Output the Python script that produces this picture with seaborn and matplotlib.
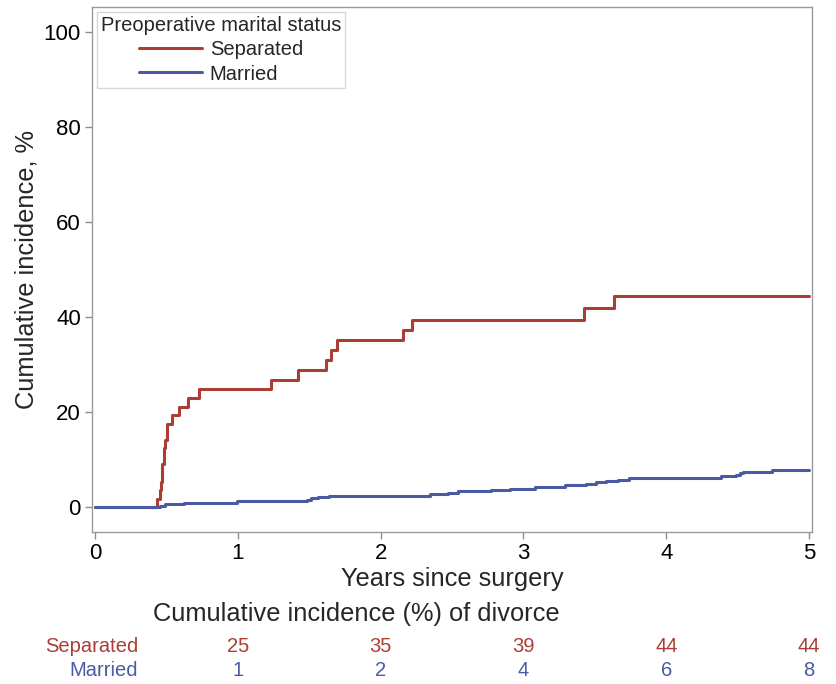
import numpy as np
import pandas as pd
import matplotlib
matplotlib.use("Agg")
import matplotlib.pyplot as plt
import matplotlib.transforms as mtransforms
import seaborn as sns

# ---- data ----
sep_years = [0, 0.436, 0.453, 0.461, 0.473, 0.486, 0.493, 0.506, 0.543, 0.586,
             0.654, 0.732, 1.234, 1.422, 1.616, 1.653, 1.698, 2.155, 2.218,
             3.423, 3.636, 5.0]
sep_pct = [0, 1.75, 3.65, 5.26, 9.12, 12.3, 14.0, 17.5, 19.4, 21.1,
           23.0, 24.8, 26.7, 28.8, 30.9, 33.1, 35.2, 37.3, 39.4,
           41.9, 44.4, 44.4]

mar_years = [0, 0.453, 0.491, 0.624, 0.995, 1.485, 1.515, 1.560, 1.640, 2.343,
             2.469, 2.545, 2.770, 2.908, 3.084, 3.294, 3.437, 3.509, 3.581,
             3.664, 3.736, 4.381, 4.489, 4.513, 4.537, 4.740, 5.0]
mar_pct = [0, 0.28, 0.56, 0.84, 1.19, 1.54, 1.82, 2.1, 2.3, 2.67,
           3.0, 3.3, 3.58, 3.86, 4.14, 4.53, 4.88, 5.2, 5.4,
           5.7, 6.1, 6.4, 6.8, 7.1, 7.3, 7.7, 7.7]

groups = ["Separated", "Married"]
table_years = [1, 2, 3, 4, 5]
sep_table = [25, 35, 39, 44, 44]
mar_table = [1, 2, 4, 6, 8]
x_ticks = [0, 1, 2, 3, 4, 5]
y_ticks = [0, 20, 40, 60, 80, 100]

RED = "#AC3D35"
BLUE = "#4A5BA3"

df = pd.concat([
    pd.DataFrame({"year": sep_years, "pct": sep_pct, "status": groups[0]}),
    pd.DataFrame({"year": mar_years, "pct": mar_pct, "status": groups[1]}),
], ignore_index=True)

sns.set_style("white")
plt.rcParams["font.family"] = ["Liberation Sans", "DejaVu Sans"]

fig = plt.figure(figsize=(8.37, 6.84), dpi=100)
ax = fig.add_axes([92 / 837, 1 - 532 / 684, (812 - 92) / 837, (532 - 7) / 684])

sns.lineplot(data=df, x="year", y="pct", hue="status", hue_order=groups,
             palette=[RED, BLUE], estimator=None, sort=False,
             drawstyle="steps-post", linewidth=2.2, ax=ax)

ax.set_xlim(-0.02, 5.02)
ax.set_ylim(-5.3, 105.3)
ax.set_xticks(x_ticks)
ax.set_yticks(y_ticks)
ax.tick_params(axis="both", which="major", direction="out", length=5,
               width=1, color="#8C8C8C", labelsize=16, labelcolor="black",
               bottom=True, left=True, pad=3)
for s in ax.spines.values():
    s.set_visible(True)
    s.set_color("#9A9A9A")
    s.set_linewidth(1.0)

ax.set_xlabel("Years since surgery", fontsize=18.3, labelpad=2)
ax.set_ylabel("Cumulative incidence, %", fontsize=18.3, labelpad=4)

leg = ax.legend(title="Preoperative marital status", loc="upper left",
                fontsize=14.5, title_fontsize=14.5, frameon=True, fancybox=False,
                edgecolor="#CFCFCF", borderaxespad=0.25, handlelength=3.1,
                handletextpad=0.4, borderpad=0.2, labelspacing=0.26)
leg.get_frame().set_linewidth(1.0)

# ---- table under the plot ----
fig.text(356 / 837, 1 - 614 / 684, "Cumulative incidence (%) of divorce",
         ha="center", va="center", fontsize=18.3)
trans = mtransforms.blended_transform_factory(ax.transData, fig.transFigure)
row_y = [1 - 646 / 684, 1 - 670 / 684]
colors = [RED, BLUE]
for name, vals, yy, c in zip(groups, [sep_table, mar_table], row_y, colors):
    fig.text(138 / 837, yy, name, ha="right", va="center", fontsize=14.5, color=c)
    for xv, v in zip(table_years, vals):
        ax.text(xv, yy, str(v), transform=trans, ha="center", va="center",
                fontsize=14.5, color=c)

fig.savefig("out.png", dpi=100)
